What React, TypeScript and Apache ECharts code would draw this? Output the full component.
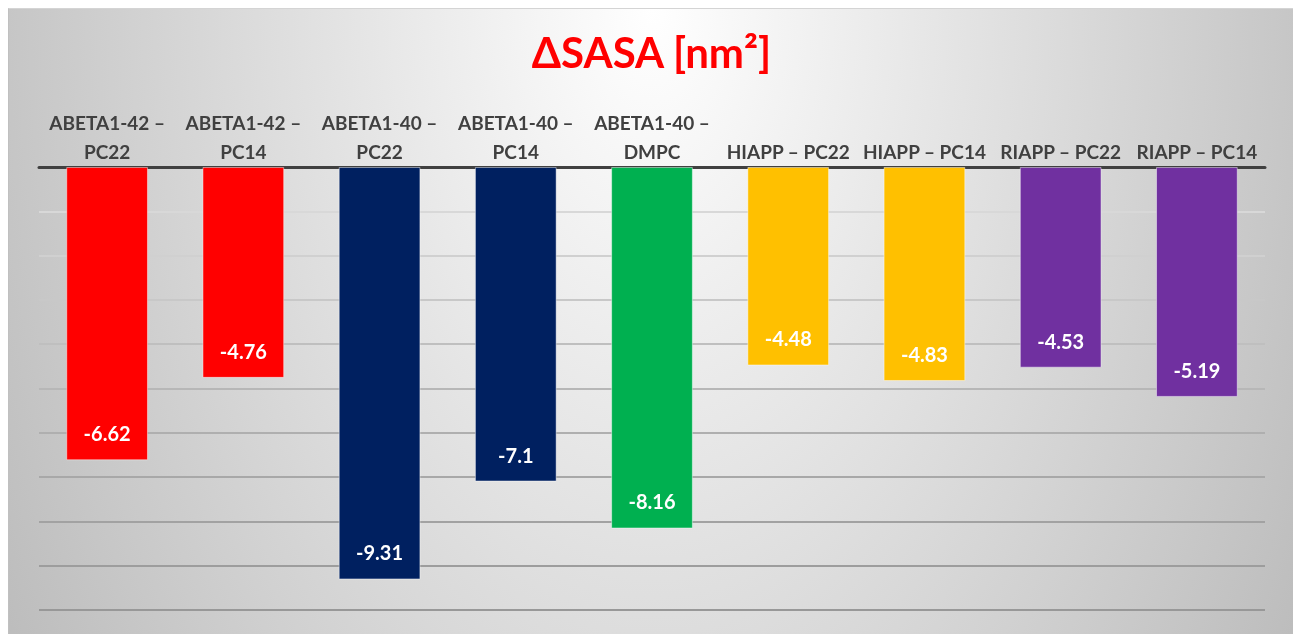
import React, { useEffect, useRef } from "react";
import * as echarts from "echarts";

const categories = [
  "ABETA1-42 – PC22",
  "ABETA1-42 – PC14",
  "ABETA1-40 – PC22",
  "ABETA1-40 – PC14",
  "ABETA1-40 – DMPC",
  "HIAPP – PC22",
  "HIAPP – PC14",
  "RIAPP – PC22",
  "RIAPP – PC14",
];
const values = [-6.62, -4.76, -9.31, -7.1, -8.16, -4.48, -4.83, -4.53, -5.19];
const barColors = ["#ff0000", "#ff0000", "#002060", "#002060", "#00b050", "#ffc000", "#ffc000", "#7030a0", "#7030a0"];
const titleText = "ΔSASA [nm²]";
const yMin = -10;
const yMax = 0;
const yStep = 1;
// grid line colours, from the lowest tick (-10) up to 0
const gridColors = ["#989898", "#9d9d9d", "#a2a2a2", "#a8a8a8", "#afafaf", "#b7b7b7", "#bfbfbf", "#c8c8c8", "#d0d0d0", "#d8d8d8", "#e0e0e0"];

const FONT = "Lato, 'Open Sans', sans-serif";

export default function App() {
  const ref = useRef<HTMLDivElement>(null);
  useEffect(() => {
    document.documentElement.style.overflow = "hidden";
    const chart = echarts.init(ref.current!, undefined, { renderer: "svg" });
    chart.setOption({
      animation: false,
      title: {
        text: titleText,
        left: "center",
        top: 17,
        textStyle: { color: "#ff0000", fontFamily: FONT, fontWeight: "bold", fontSize: 42 },
      },
      grid: { left: 30, top: 158, width: 1226, height: 443, containLabel: false },
      xAxis: {
        type: "category",
        position: "top",
        data: categories,
        axisLine: { show: true, lineStyle: { color: "#404040", width: 3 } },
        axisTick: { show: false },
        axisLabel: {
          interval: 0,
          margin: 1,
          color: "#404040",
          fontFamily: FONT,
          fontWeight: "bold",
          fontSize: 19,
          lineHeight: 29,
          formatter: (v: string) => (v.length > 13 ? v.replace(" – ", " –\n") : v),
        },
      },
      yAxis: {
        type: "value",
        min: yMin,
        max: yMax,
        interval: yStep,
        axisLabel: { show: false },
        axisLine: { show: false },
        axisTick: { show: false },
        splitLine: { show: true, lineStyle: { color: gridColors, width: 1.8 } },
      },
      series: [
        {
          type: "bar",
          barWidth: "60%",
          data: values.map((v, i) => ({
            value: v,
            itemStyle: { color: barColors[i], borderColor: "rgba(255,255,255,0.45)", borderWidth: 1 },
          })),
          label: {
            show: true,
            position: "insideBottom",
            distance: 17,
            color: "#ffffff",
            fontFamily: FONT,
            fontWeight: "bold",
            fontSize: 20,
            formatter: (p: any) => String(p.value),
          },
        },
      ],
    });
    return () => chart.dispose();
  }, []);
  return (
    <div
      style={{
        position: "fixed",
        left: 8,
        top: 8,
        width: 1320,
        height: 660,
        boxSizing: "border-box",
        borderTop: "1px solid #d4d4d4",
        borderLeft: "1px solid #c0c0c0",
        background: "radial-gradient(757px 1230px at 643px 0px, #ffffff 0%, #bcbcbc 100%)",
      }}
    >
      <div ref={ref} style={{ width: 1285, height: 624 }} />
    </div>
  );
}
